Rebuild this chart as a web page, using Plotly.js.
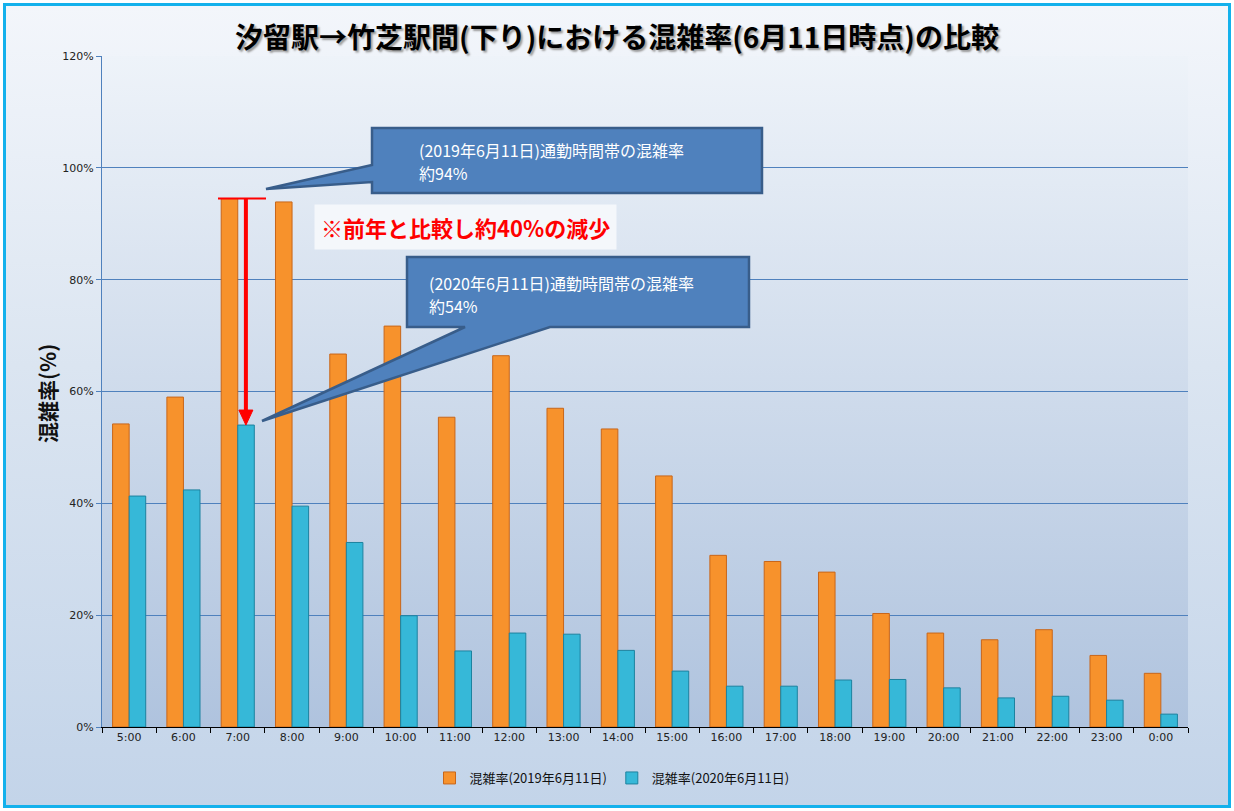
<!DOCTYPE html>
<html><head><meta charset="utf-8">
<script src="https://cdn.plot.ly/plotly-3.0.1.min.js"></script>
<style>
html,body{margin:0;padding:0;background:#fff;}
#bg{position:absolute;left:3px;top:3px;width:1222px;height:799px;border:3px solid #14b1ec;
 background:linear-gradient(to bottom,#f3f6fb 0%,#dbe5f1 45%,#c3d4e9 100%);}
#chart{position:absolute;left:0;top:0;width:1234px;height:811px;}
</style></head>
<body>
<div id="bg"></div>
<div id="chart"></div>
<script>
const hours = ['5:00','6:00','7:00','8:00','9:00','10:00','11:00','12:00','13:00','14:00','15:00','16:00','17:00','18:00','19:00','20:00','21:00','22:00','23:00','0:00'];
const rate2019 = [54.2,59.0,94.5,93.9,66.7,71.7,55.4,66.4,57.0,53.3,44.9,30.7,29.6,27.7,20.3,16.8,15.6,17.4,12.8,9.6];
const rate2020 = [41.3,42.4,54.0,39.5,33.0,19.9,13.6,16.8,16.6,13.7,10.0,7.3,7.3,8.4,8.5,7.0,5.2,5.5,4.8,2.3];
const seriesNames = ['混雑率(2019年6月11日)','混雑率(2020年6月11日)'];
const titleText = '汐留駅→竹芝駅間(下り)における混雑率(6月11日時点)の比較';
const yTitle = '混雑率(%)';
const note1a = '(2019年6月11日)通勤時間帯の混雑率';
const note1b = '約94%';
const note2a = '(2020年6月11日)通勤時間帯の混雑率';
const note2b = '約54%';
const noteRed = '※前年と比較し約40%の減少';

// plot area pixel frame
const L=102, R=1188, T=56, B=727;
const px = x => (x-L)/(R-L);
const py = y => (B-y)/(B-T);
const YMAX = 120, NCAT = hours.length;
const xIdx = i => (i+0.5)/NCAT;     // category centre in paper units
const yVal = v => v/YMAX;           // value in paper units
const fmt = (x,y)=> x.toFixed(5)+','+y.toFixed(5);

const peak = hours.indexOf('7:00');
const barOff = 0.15/NCAT;           // offset of a bar centre from the category centre

const gradSvg = "<svg xmlns='http://www.w3.org/2000/svg' width='10' height='100' preserveAspectRatio='none'><defs><linearGradient id='g' x1='0' y1='0' x2='0' y2='1'><stop offset='0' stop-color='#eef3f9'/><stop offset='1' stop-color='#afc3de'/></linearGradient></defs><rect width='10' height='100' fill='url(#g)'/></svg>";

const traces = [
 {type:'bar', x:hours, y:rate2019, name:seriesNames[0],
  marker:{color:'#f7922c', line:{color:'#c8661a', width:1}}},
 {type:'bar', x:hours, y:rate2020, name:seriesNames[1],
  marker:{color:'#36b8d8', line:{color:'#1d829f', width:1}}}
];

// callouts
const c1 = 'M'+fmt(px(372),py(128))+' L'+fmt(px(762),py(128))+' L'+fmt(px(762),py(193))+' L'+fmt(px(372),py(193))+
 ' L'+fmt(px(372),py(182))+' L'+fmt(px(266),py(189))+' L'+fmt(px(372),py(165))+' Z';
const c2 = 'M'+fmt(px(407),py(257))+' L'+fmt(px(749),py(257))+' L'+fmt(px(749),py(327))+' L'+fmt(px(550),py(327))+
 ' L'+fmt(px(262),py(421))+' L'+fmt(px(465),py(327))+' L'+fmt(px(407),py(327))+' Z';

const ax = xIdx(peak)+barOff;
const yTop = yVal(rate2019[peak]), yLow = yVal(rate2020[peak]);
const headH = 15/(B-T), headW = 7/(R-L);
const arrowHead = 'M'+fmt(ax-headW,yLow+headH)+' L'+fmt(ax+headW,yLow+headH)+' L'+fmt(ax,yLow)+' Z';

const shapes = [
 {type:'path', xref:'paper', yref:'paper', path:c1, fillcolor:'#4f81bd', line:{color:'#385d8a', width:2.5}},
 {type:'path', xref:'paper', yref:'paper', path:c2, fillcolor:'#4f81bd', line:{color:'#385d8a', width:2.5}},
 {type:'line', xref:'paper', yref:'paper', x0:px(218), x1:px(266), y0:yTop, y1:yTop, line:{color:'#ff0000', width:2}},
 {type:'line', xref:'paper', yref:'paper', x0:ax, x1:ax, y0:yTop, y1:yLow+headH, line:{color:'#ff0000', width:4}},
 {type:'path', xref:'paper', yref:'paper', path:arrowHead, fillcolor:'#ff0000', line:{color:'#ff0000', width:1}}
];

const noteFont = {family:'"Noto Sans CJK JP", sans-serif', size:16, color:'#ffffff'};
const noteAnn = (t, x, y) => ({xref:'paper', yref:'paper', x:px(x), y:py(y), xanchor:'left', yanchor:'middle',
  align:'left', showarrow:false, text:t, font:noteFont});

const annotations = [
 noteAnn(note1a, 417, 150), noteAnn(note1b, 417, 173),
 noteAnn(note2a, 427, 283), noteAnn(note2b, 427, 306),
 {xref:'paper', yref:'paper', x:px(465), y:py(227), xanchor:'center', yanchor:'middle', showarrow:false,
  text:'<b>'+noteRed+'</b>', bgcolor:'rgba(246,248,252,0.9)', borderpad:6,
  font:{family:'"Noto Sans CJK JP", sans-serif', size:22, color:'#ff0000'}},
 {xref:'paper', yref:'paper', x:px(47), y:py(394), xanchor:'center', yanchor:'middle', showarrow:false, textangle:-90,
  text:'<b>'+yTitle+'</b>', font:{family:'"Noto Sans CJK JP", sans-serif', size:21, color:'#111'}}
];

const layout = {
 width:1234, height:811,
 margin:{l:L, r:1234-R, t:T, b:811-B},
 paper_bgcolor:'rgba(0,0,0,0)', plot_bgcolor:'rgba(0,0,0,0)',
 title:{text:'<b>'+titleText+'</b>', x:0.5, xanchor:'center', y:1-38/811, yanchor:'middle',
  font:{family:'"Noto Sans CJK JP", sans-serif', size:28, color:'#000', shadow:'2px 2px 2px #9a9a9a'}},
 bargap:0.39, bargroupgap:0, barmode:'group',
 xaxis:{type:'category', showgrid:false, showline:true, linecolor:'#000', linewidth:1,
  ticks:'outside', ticklen:5, tickcolor:'#000', tickson:'boundaries',
  tickfont:{family:'"DejaVu Sans", sans-serif', size:11, color:'#222'}, fixedrange:true},
 yaxis:{range:[0,YMAX], dtick:20, ticksuffix:'%', showgrid:true, gridcolor:'#4f81bd', gridwidth:1,
  showline:true, linecolor:'#4f81bd', ticks:'outside', ticklen:5, tickcolor:'#4f81bd', zeroline:false,
  tickfont:{family:'"DejaVu Sans", sans-serif', size:11, color:'#222'}, fixedrange:true},
 legend:{orientation:'h', x:px(612), xanchor:'center', y:py(778), yanchor:'middle', itemwidth:30,
  font:{family:'"Noto Sans CJK JP", sans-serif', size:13, color:'#111'}, bgcolor:'rgba(0,0,0,0)'},
 images:[{source:'data:image/svg+xml;charset=utf-8,'+encodeURIComponent(gradSvg), xref:'paper', yref:'paper',
  x:0, y:1, sizex:1, sizey:1, xanchor:'left', yanchor:'top', sizing:'stretch', layer:'below'}],
 shapes:shapes, annotations:annotations
};

Plotly.newPlot('chart', traces, layout, {displayModeBar:false, staticPlot:true});
</script>
</body></html>
